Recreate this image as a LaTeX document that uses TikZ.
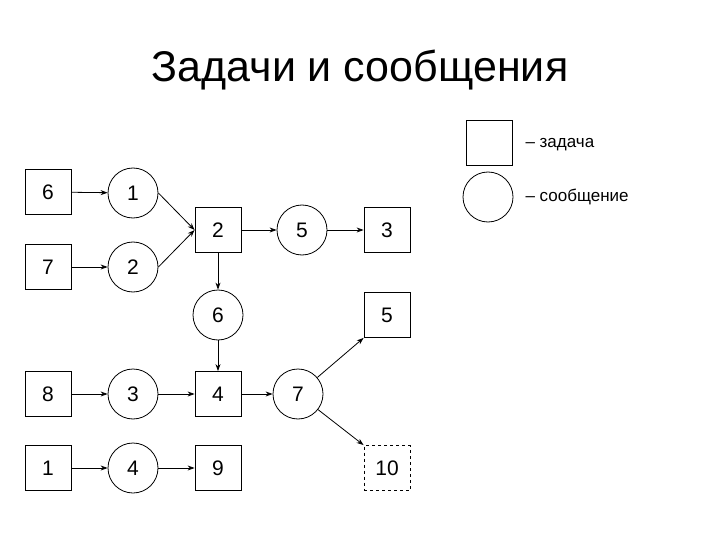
\documentclass[tikz,border=0pt]{standalone}
\usepackage{fontspec}
\setmainfont{Liberation Sans}
\usetikzlibrary{arrows.meta}
\begin{document}
\begin{tikzpicture}[x=1pt,y=-1pt,
  task/.style={draw,thick,minimum width=46pt,minimum height=45pt,inner sep=0pt,font=\fontsize{21}{21}\selectfont},
  msg/.style={draw,thick,circle,minimum size=50pt,inner sep=0pt,font=\fontsize{21}{21}\selectfont},
  arr/.style={thick,-{Stealth[length=7pt,width=5pt]}}]
\useasboundingbox (0,0) rectangle (720,540);
\node (title) at (360,70) {\fontsize{43}{43}\selectfont Задачи и сообщения};
\node[task] (lt) at (489,143) {};
\node[msg] (lm) at (488,197) {};
\node[anchor=west,font=\fontsize{17}{17}\selectfont] (ltt) at (522,145) {– задача};
\node[anchor=west,font=\fontsize{17}{17}\selectfont] (lmt) at (522,197) {– сообщение};
\node[task] (t6) at (48,192) {6};
\node[task] (t7) at (48,267) {7};
\node[task] (t8) at (48,394) {8};
\node[task] (t1) at (48,468) {1};
\node[msg] (m1) at (133,193) {1};
\node[msg] (m2) at (133,267) {2};
\node[msg] (m3) at (133,394) {3};
\node[msg] (m4) at (133,468) {4};
\node[task] (t2) at (218,230) {2};
\node[msg] (m6) at (218,315) {6};
\node[task] (t4) at (218,394) {4};
\node[task] (t9) at (218,468) {9};
\node[msg] (m5) at (302,230) {5};
\node[msg] (m7) at (298,394) {7};
\node[task] (t3) at (387,230) {3};
\node[task] (t5) at (387,315) {5};
\node[task,dashed] (t10) at (387,468) {10};
\draw[arr] (t6) -- (m1);
\draw[arr] (t7) -- (m2);
\draw[arr] (m1.east) -- (t2.west);
\draw[arr] (m2.east) -- (t2.west);
\draw[arr] (t2) -- (m5);
\draw[arr] (m5) -- (t3);
\draw[arr] (t2) -- (m6);
\draw[arr] (m6) -- (t4);
\draw[arr] (t8) -- (m3);
\draw[arr] (m3) -- (t4);
\draw[arr] (t4) -- (m7);
\draw[arr] (m7) -- (t5.south west);
\draw[arr] (m7) -- (t10.north west);
\draw[arr] (t1) -- (m4);
\draw[arr] (m4) -- (t9);
\end{tikzpicture}
\end{document}
